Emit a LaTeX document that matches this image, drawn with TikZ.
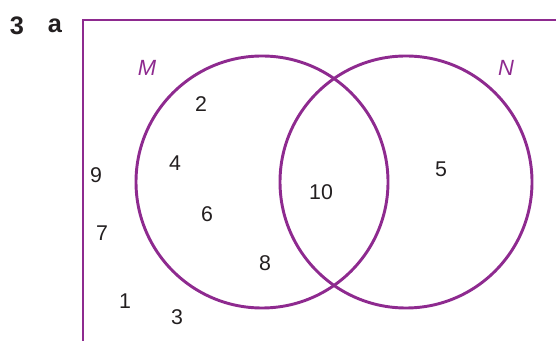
\documentclass[tikz,border=0pt]{standalone}
\usepackage{fontspec}
\setmainfont{Liberation Sans}
\usepackage{xcolor}
\usetikzlibrary{positioning}
\definecolor{vnpurple}{HTML}{8E2A8F}
\definecolor{vntext}{HTML}{231F20}

\begin{document}
\begin{tikzpicture}[
  x=0.75pt,y=-0.75pt,
  setline/.style={draw=vnpurple,line width=2.2pt},
  elem/.style={inner sep=0pt,text=vntext,font=\fontsize{16}{19}\selectfont},
  setname/.style={inner sep=0pt,text=vnpurple,font=\fontsize{16.5}{19}\selectfont\itshape},
  qlabel/.style={inner sep=0pt,text=vntext,font=\fontsize{19}{22}\selectfont\bfseries}
]
  \useasboundingbox (0,0) rectangle (556,341);
  % universal set (only top and left edges show)
  \draw[setline] (556,20) -- (83,20) -- (83,345);
  % the two sets
  \draw[setline] (262,182) circle[radius=126];
  \draw[setline] (406,182) circle[radius=126];
  % question label
  \node[qlabel] (qnum) at (17,26) {3};
  \node[qlabel] (qpart) at (55,26) {a};
  % set names
  \node[setname] (nameM) at (147,68) {M};
  \node[setname] (nameN) at (506,68) {N};
  % elements
  \node[elem] (e2) at (201,104) {2};
  \node[elem] (e4) at (175,163) {4};
  \node[elem] (e6) at (207,214) {6};
  \node[elem] (e8) at (265,263) {8};
  \node[elem] (e10) at (321,192) {10};
  \node[elem] (e5) at (441,169) {5};
  \node[elem] (e9) at (96,175) {9};
  \node[elem] (e7) at (102,233) {7};
  \node[elem] (e1) at (125,301) {1};
  \node[elem] (e3) at (177,317) {3};
\end{tikzpicture}
\end{document}
